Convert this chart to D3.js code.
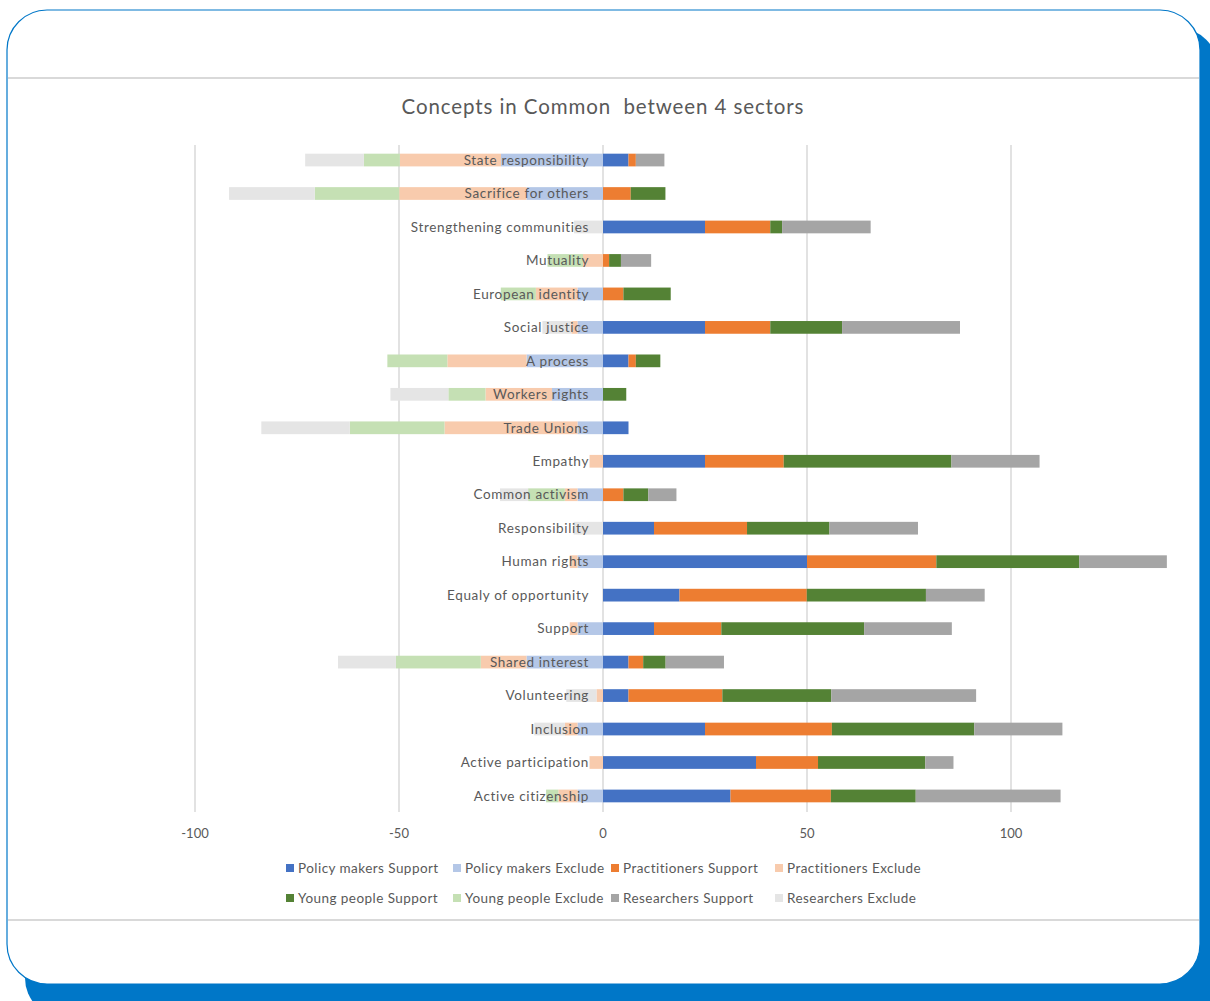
<!DOCTYPE html>
<html>
<head>
<meta charset="utf-8">
<script src="https://cdn.jsdelivr.net/npm/d3@7"></script>
<style>
  body { margin: 0; background: #fff; }
  svg { display: block; }
</style>
</head>
<body>
<svg id="chart"></svg>
<script>
// data (negatives = Exclude)
var categories = ["State responsibility", "Sacrifice for others", "Strengthening communities", "Mutuality",
  "European identity", "Social justice", "A process", "Workers rights", "Trade Unions", "Empathy",
  "Common activism", "Responsibility", "Human rights", "Equaly of opportunity", "Support",
  "Shared interest", "Volunteering", "Inclusion", "Active participation", "Active citizenship"];

var pmSupport = [6.25, 0, 25, 0, 0, 25, 6.25, 0, 6.25, 25, 0, 12.5, 50, 18.75, 12.5, 6.25, 6.25, 25, 37.5, 31.25];
var pmExclude = [-25, -18.75, 0, 0, -6.25, -6.25, -18.75, -12.5, -6.25, 0, -6.25, 0, -6.25, 0, -6.25, -18.75, 0, -6.25, 0, -6.25];
var prSupport = [1.8, 6.8, 16, 1.5, 5, 16, 1.8, 0, 0, 19.3, 5, 22.8, 31.7, 31.2, 16.5, 3.6, 23, 31.1, 15.2, 24.6];
var prExclude = [-24.8, -31.2, 0, -4.9, -10.2, -1.5, -19.4, -16.3, -32.6, -3.3, -3.1, 0, -1.9, 0, -1.9, -11.2, -1.6, -3.1, -3.3, -4.7];
var ypSupport = [0, 8.5, 2.9, 2.9, 11.6, 17.6, 6, 5.7, 0, 41.1, 6.1, 20.2, 35, 29.2, 35, 5.5, 26.7, 34.9, 26.3, 20.8];
var ypExclude = [-8.8, -20.7, 0, -8.7, -8.6, 0, -14.7, -9.1, -23.2, 0, -9, 0, 0, 0, 0, -20.8, 0, 0, 0, -3];
var reSupport = [7, 0, 21.7, 7.4, 0, 28.9, 0, 0, 0, 21.6, 6.9, 21.7, 21.5, 14.4, 21.5, 14.3, 35.5, 21.6, 6.9, 35.5];
var reExclude = [-14.4, -21, -7.1, 0, 0, -7.1, 0, -14.2, -21.7, 0, -6.9, -7.2, 0, 0, 0, -14.2, -7.4, -7.5, 0, 0];

var seriesNames = ["Policy makers Support", "Policy makers Exclude", "Practitioners Support", "Practitioners Exclude",
  "Young people Support", "Young people Exclude", "Researchers Support", "Researchers Exclude"];
var seriesValues = [pmSupport, pmExclude, prSupport, prExclude, ypSupport, ypExclude, reSupport, reExclude];
var seriesColors = ["#4472C4", "#B4C7E7", "#ED7D31", "#F8CBAD", "#548235", "#C5E0B4", "#A5A5A5", "#E5E5E5"];
var xTicks = [-100, -50, 0, 50, 100];

var W = 1210, H = 1001;
var txt = "#595959";
var font = "Lato, 'Open Sans', sans-serif";

var svg = d3.select("#chart").attr("width", W).attr("height", H);

// frame: blue shadow + white rounded panel
svg.append("rect").attr("x", 25).attr("y", 28).attr("width", 1193).attr("height", 990)
  .attr("rx", 40).attr("fill", "#0077C8");
svg.append("rect").attr("x", 7).attr("y", 10).attr("width", 1193).attr("height", 974)
  .attr("rx", 40).attr("fill", "#fff").attr("stroke", "#0077C8").attr("stroke-width", 1.2);
svg.append("line").attr("x1", 8).attr("x2", 1199).attr("y1", 78).attr("y2", 78)
  .attr("stroke", "#d9d9d9").attr("stroke-width", 2);
svg.append("line").attr("x1", 8).attr("x2", 1199).attr("y1", 920).attr("y2", 920)
  .attr("stroke", "#d9d9d9").attr("stroke-width", 2);

svg.append("text").attr("x", 603).attr("y", 114).attr("text-anchor", "middle")
  .style("font-family", font).style("font-size", "20.5px").style("letter-spacing", "0.9px")
  .attr("fill", txt)
  .attr("xml:space", "preserve")
  .text("Concepts in Common  between 4 sectors");

var table = categories.map(function(c, i) {
  var row = { cat: c };
  seriesNames.forEach(function(s, j) { row[s] = seriesValues[j][i]; });
  return row;
});

var x = d3.scaleLinear().domain([-100, 100]).range([195, 1011]);
var y = d3.scaleBand().domain(categories).range([143.3, 812.7]).paddingInner(0.62).paddingOuter(0.31);

// gridlines
svg.append("g").selectAll("line").data(xTicks).join("line")
  .attr("x1", function(d) { return x(d); }).attr("x2", function(d) { return x(d); })
  .attr("y1", 145).attr("y2", 812)
  .attr("stroke", "#d9d9d9").attr("stroke-width", 1.5);

svg.append("g").selectAll("text").data(xTicks).join("text")
  .attr("x", function(d) { return x(d); }).attr("y", 838)
  .attr("text-anchor", "middle")
  .style("font-family", font).style("font-size", "13px").attr("fill", txt)
  .text(function(d) { return d; });

var stack = d3.stack().keys(seriesNames).offset(d3.stackOffsetDiverging);
var layers = stack(table);

svg.append("g").selectAll("g").data(layers).join("g")
  .attr("fill", function(d, i) { return seriesColors[i]; })
  .selectAll("rect").data(function(d) { return d; }).join("rect")
  .attr("x", function(d) { return x(Math.min(d[0], d[1])); })
  .attr("width", function(d) { return Math.abs(x(d[1]) - x(d[0])); })
  .attr("y", function(d) { return y(d.data.cat); })
  .attr("height", y.bandwidth());

// category labels drawn over the bars
svg.append("g").selectAll("text").data(categories).join("text")
  .attr("x", 589).attr("y", function(d) { return y(d) + y.bandwidth() / 2; })
  .attr("dy", "0.35em").attr("text-anchor", "end")
  .style("font-family", font).style("font-size", "13.5px").style("letter-spacing", "0.65px")
  .attr("fill", txt)
  .text(function(d) { return d; });

// legend
var legX = [286, 453, 611, 775];
var legY = [868, 898];
var leg = svg.append("g").selectAll("g").data(seriesNames).join("g")
  .attr("transform", function(d, i) {
    return "translate(" + legX[i % 4] + "," + legY[Math.floor(i / 4)] + ")";
  });
leg.append("rect").attr("x", 0).attr("y", -4).attr("width", 8).attr("height", 8)
  .attr("fill", function(d, i) { return seriesColors[i]; });
leg.append("text").attr("x", 12).attr("y", 0).attr("dy", "0.35em")
  .style("font-family", font).style("font-size", "13.5px").style("letter-spacing", "0.45px")
  .attr("fill", txt)
  .text(function(d) { return d; });
</script>
</body>
</html>
